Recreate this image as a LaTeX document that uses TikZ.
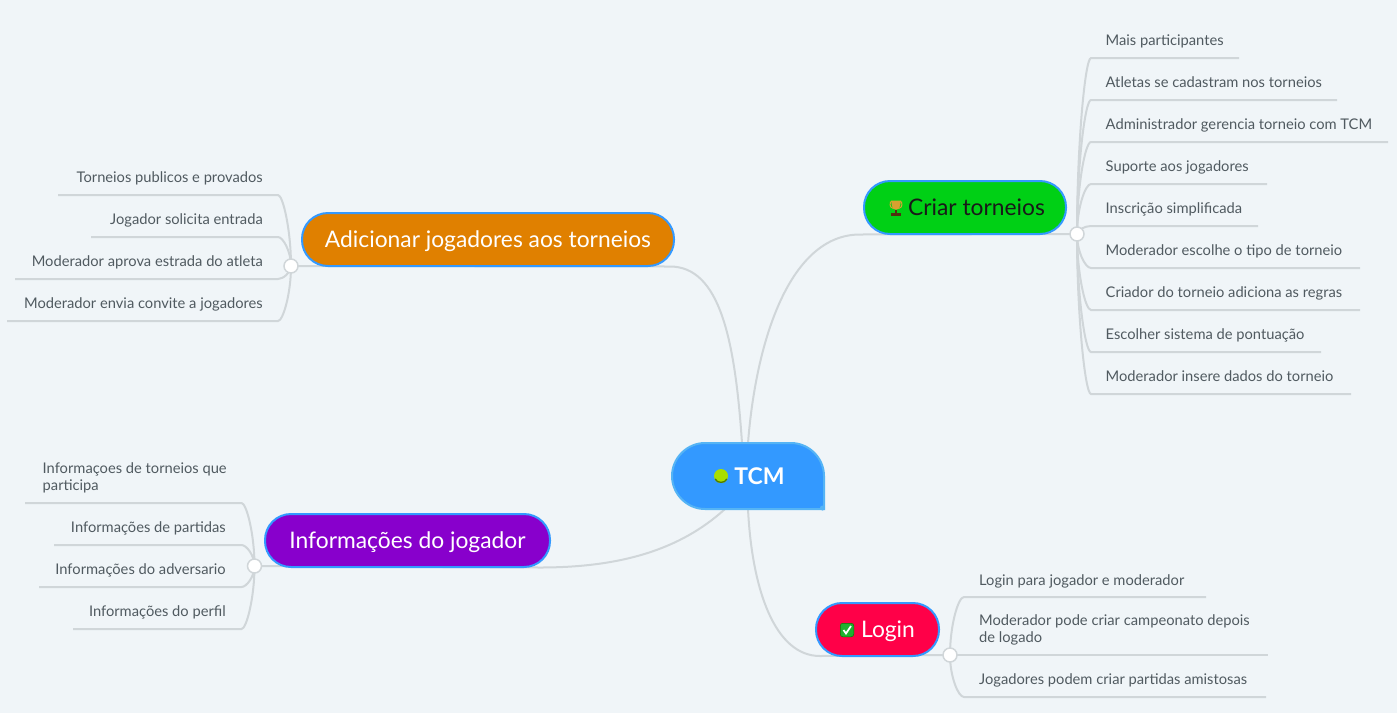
\documentclass[tikz,border=0pt]{standalone}
\usepackage{fontspec}
\setmainfont{Lato}
\usetikzlibrary{backgrounds,calc}
\definecolor{bgc}{HTML}{F0F5F8}
\definecolor{linec}{HTML}{D0D6D9}
\definecolor{txtc}{HTML}{505A60}
\definecolor{edgec}{HTML}{3399FF}
\definecolor{centerc}{HTML}{3399FF}
\definecolor{centeredge}{HTML}{55B4F5}
\definecolor{greenc}{HTML}{00D015}
\definecolor{orangec}{HTML}{E08000}
\definecolor{purplec}{HTML}{8800CC}
\definecolor{redc}{HTML}{FF0048}
\definecolor{ballin}{HTML}{A8DE00}
\definecolor{ballout}{HTML}{4F7A00}
\definecolor{goldc}{HTML}{D8A030}
\definecolor{brownc}{HTML}{503010}
\definecolor{checkc}{HTML}{1FB030}
\tikzset{
  x=1pt,y=-1pt,
  mainbox/.style={draw=edgec,line width=2pt,rounded corners=26pt,minimum height=53pt,inner sep=0pt,font=\fontsize{22.8}{26}\selectfont},
  leaf/.style={inner sep=0pt,text=txtc,font=\fontsize{14.7}{17}\selectfont,align=left},
  hub/.style={circle,draw=linec,fill=white,line width=1.5pt,minimum size=14pt,inner sep=0pt},
  conn/.style={draw=linec,line width=2pt},
  twig/.style={draw=linec,line width=2pt},
}
\newcommand{\twigR}[3]{% hub, y, right end
  \draw[twig] (#1.center) .. controls ($(#1.center)!0.5!(#1.center |- 0,#2)$) and ($(#1.center |- 0,#2)+(8,0)$) .. ($(#1.center |- 0,#2)+(14,0)$) -- (#3,#2);}
\newcommand{\twigL}[3]{%
  \draw[twig] (#1.center) .. controls ($(#1.center)!0.5!(#1.center |- 0,#2)$) and ($(#1.center |- 0,#2)+(-8,0)$) .. ($(#1.center |- 0,#2)+(-13,0)$) -- (#3,#2);}
\newcommand{\mainlabel}[1]{\raisebox{-7.5pt}[0pt][0pt]{#1}}
\begin{document}
\begin{tikzpicture}
\useasboundingbox (0,0) rectangle (1397,713);
% central node
\draw[fill=centerc,draw=centeredge,line width=2pt] (705,443) -- (791,443) .. controls (809,443) and (824,458) .. (824,476) -- (824,509) -- (705,509) .. controls (687,509) and (672,494) .. (672,476) .. controls (672,458) and (687,443) .. (705,443) -- cycle;
\fill[centeredge] (822.5,508) circle (2.5);
\node[inner sep=0pt] (tcm) at (749,476) {\fontsize{23}{28}\selectfont\bfseries\color{white}\hspace*{21pt}TCM};
\node[circle,minimum size=14pt,inner sep=0pt,fill=ballin] (ball) at (721,476) {};
\draw[ballout,line width=1.3pt] (715.2,479) .. controls (717,483.5) and (725,483.5) .. (726.8,479);
% main nodes
\node[mainbox,fill=greenc,minimum width=202pt,text=black!90] (criar) at (965,207.5) {\mainlabel{\hspace*{23pt}Criar torneios}};
\node[mainbox,fill=redc,minimum width=123pt,text=white] (login) at (877.5,629.5) {\mainlabel{\hspace*{21pt}Login}};
\node[mainbox,fill=orangec,minimum width=372pt,text=white] (adic) at (488,239.5) {\mainlabel{Adicionar jogadores aos torneios}};
\node[mainbox,fill=purplec,minimum width=285pt,text=white] (info) at (407.5,540.5) {\mainlabel{Informações do jogador}};
% icons
\draw[goldc,line width=1pt] (890.5,201.5) .. controls (889,207) and (892,208.5) .. (893.5,208.5);
\draw[goldc,line width=1pt] (901.5,201.5) .. controls (903,207) and (900,208.5) .. (898.5,208.5);
\fill[goldc] (891,200.5) -- (901,200.5) -- (900,206) .. controls (899,211) and (893,211) .. (892,206) -- cycle;
\fill[brownc] (895,210) rectangle (897,213);
\fill[brownc] (891,213) rectangle (901,216);
\node[draw=green!50!black,fill=checkc,rounded corners=2.5pt,minimum size=13.5pt,inner sep=0pt,line width=.5pt] (check) at (847,630) {};
\draw[white,line width=1.7pt] (843.5,630) -- (846,633.5) -- (851,626);
% hubs
\node[hub] (hubC) at (1077,234) {};
\node[hub] (hubA) at (291,266) {};
\node[hub] (hubI) at (254.5,566) {};
\node[hub] (hubL) at (950,655) {};
% leaves
\foreach \n/\y/\t in {c1/45/Mais participantes,c2/87/Atletas se cadastram nos torneios,c3/129/Administrador gerencia torneio com TCM,c4/171/Suporte aos jogadores,c5/213/Inscrição simplificada,c6/255/Moderador escolhe o tipo de torneio,c7/297/Criador do torneio adiciona as regras,c8/339/Escolher sistema de pontuação,c9/381/Moderador insere dados do torneio}
  \node[leaf,anchor=base west] (\n) at (1105.5,\y) {\t};
\foreach \n/\y/\t in {a1/182/Torneios publicos e provados,a2/224/Jogador solicita entrada,a3/266/Moderador aprova estrada do atleta,a4/308/Moderador envia convite a jogadores}
  \node[leaf,anchor=base east] (\n) at (263,\y) {\t};
\node[leaf,anchor=west] (i1) at (42.5,478) {Informaçoes de torneios que\\participa};
\foreach \n/\y/\t in {i2/532/Informações de partidas,i3/574/Informações do adversario,i4/616/Informações do perfil}
  \node[leaf,anchor=base east] (\n) at (226,\y) {\t};
\node[leaf,anchor=base west] (l1) at (979,585) {Login para jogador e moderador};
\node[leaf,anchor=west] (l2) at (979,630) {Moderador pode criar campeonato depois\\de logado};
\node[leaf,anchor=base west] (l3) at (979,684) {Jogadores podem criar partidas amistosas};
\begin{scope}[on background layer]
\fill[bgc] (0,0) rectangle (1397,713);
% trunk connectors
\draw[conn] (748,443) .. controls (756,340) and (790,234.5) .. (860,234.5) -- (hubC.center);
\draw[conn] (742,443) .. controls (735,340) and (720,266.5) .. (670,266.5) -- (hubA.center);
\draw[conn] (725,509) .. controls (680,550) and (620,567.5) .. (540,567.5) -- (hubI.center);
\draw[conn] (748,509) .. controls (752,590) and (775,656) .. (820,656) -- (hubL.center);
% twigs
\twigR{hubC}{58}{1239}\twigR{hubC}{100}{1337}\twigR{hubC}{142}{1388}\twigR{hubC}{184}{1267}\twigR{hubC}{226}{1258}
\twigR{hubC}{268}{1360}\twigR{hubC}{310}{1360}\twigR{hubC}{352}{1321}\twigR{hubC}{394}{1351}
\twigL{hubA}{195}{58}\twigL{hubA}{237}{91}\twigL{hubA}{279}{15}\twigL{hubA}{321}{7}
\twigL{hubI}{503}{25}\twigL{hubI}{545}{54}\twigL{hubI}{587}{39}\twigL{hubI}{629}{73}
\twigR{hubL}{597}{1206}\twigR{hubL}{655}{1268}\twigR{hubL}{697}{1266}
\end{scope}
\end{tikzpicture}
\end{document}
